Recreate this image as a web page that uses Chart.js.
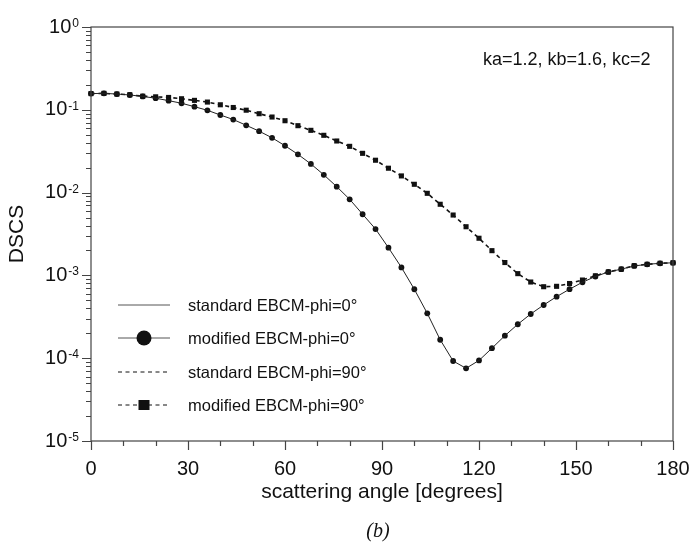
<!DOCTYPE html>
<html>
<head>
<meta charset="utf-8">
<title>DSCS vs scattering angle</title>
<script src="https://cdn.jsdelivr.net/npm/chart.js@4.4.0/dist/chart.umd.min.js"></script>
<style>
  html, body { margin: 0; padding: 0; background: #fff; }
  #wrap { width: 693px; height: 546px; position: relative; }
</style>
</head>
<body>
<div id="wrap"><canvas id="chart"></canvas></div>
<script>
// scattering angle in degrees, one sample every 4 degrees
const angles = [0, 4, 8, 12, 16, 20, 24, 28, 32, 36, 40, 44, 48, 52, 56, 60, 64, 68, 72, 76,
  80, 84, 88, 92, 96, 100, 104, 108, 112, 116, 120, 124, 128, 132, 136, 140, 144, 148, 152,
  156, 160, 164, 168, 172, 176, 180];

// DSCS, phi = 0 (standard and modified EBCM coincide)
const dscsPhi0 = [0.157, 0.158, 0.155, 0.151, 0.145, 0.138, 0.129, 0.120, 0.109, 0.0986,
  0.0865, 0.0763, 0.065, 0.0552, 0.0459, 0.0368, 0.029, 0.0222, 0.0164, 0.0118,
  0.0083, 0.00548, 0.00363, 0.00216, 0.00125, 6.8e-4, 3.48e-4, 1.67e-4, 9.25e-5, 7.55e-5,
  9.4e-5, 1.32e-4, 1.87e-4, 2.57e-4, 3.42e-4, 4.39e-4, 5.54e-4, 6.81e-4, 8.27e-4, 9.7e-4,
  1.10e-3, 1.19e-3, 1.30e-3, 1.36e-3, 1.40e-3, 1.42e-3];

// DSCS, phi = 90 (standard and modified EBCM coincide)
const dscsPhi90 = [0.157, 0.158, 0.155, 0.152, 0.146, 0.1435, 0.141, 0.136, 0.130, 0.124,
  0.115, 0.1066, 0.0989, 0.0897, 0.0818, 0.0738, 0.0643, 0.0565, 0.0492, 0.042,
  0.0362, 0.0298, 0.0246, 0.0197, 0.0159, 0.0126, 0.0098, 0.00723, 0.00536, 0.00387,
  0.00281, 0.00199, 0.00143, 0.00105, 8.32e-4, 7.3e-4, 7.38e-4, 7.98e-4, 8.79e-4, 9.89e-4,
  1.10e-3, 1.19e-3, 1.31e-3, 1.36e-3, 1.40e-3, 1.42e-3];

const xTicks = [0, 30, 60, 90, 120, 150, 180];
const xMinorStep = 10;
const yDecades = [-5, -4, -3, -2, -1, 0];

const legendLabels = [
  'standard EBCM-phi=0\u00b0',
  'modified EBCM-phi=0\u00b0',
  'standard EBCM-phi=90\u00b0',
  'modified EBCM-phi=90\u00b0'
];
const annotation = 'ka=1.2, kb=1.6, kc=2';
const xTitle = 'scattering angle [degrees]';
const yTitle = 'DSCS';
const panelLabel = '(b)';

const SANS = '"Liberation Sans", Arial, sans-serif';
const INK = '#111';
const DASH = [4, 3.5];

function toPoints(values) {
  return angles.map((a, i) => ({x: a, y: values[i]}));
}

// draws axes frame, ticks, labels, legend and notes
const decorations = {
    id: 'decorations',
    afterDraw(chart) {
        const {ctx, chartArea: a, scales: {x, y}} = chart;
        ctx.save();

        // frame
        ctx.strokeStyle = '#444';
        ctx.lineWidth = 1.2;
        ctx.strokeRect(a.left, a.top, a.right - a.left, a.bottom - a.top);

        // tick marks
        ctx.beginPath();
        for (let v = x.min; v <= x.max; v += xMinorStep) {
            const px = Math.round(x.getPixelForValue(v)) + 0.5;
            const len = xTicks.includes(v) ? 9 : 5;
            ctx.moveTo(px, a.bottom);
            ctx.lineTo(px, a.bottom + len);
        }
        for (const e of yDecades) {
            for (let m = 1; m <= 9; m++) {
                if (e === 0 && m > 1) break;
                const py = Math.round(y.getPixelForValue(m * Math.pow(10, e))) + 0.5;
                const len = m === 1 ? 9 : 5;
                ctx.moveTo(a.left, py);
                ctx.lineTo(a.left - len, py);
            }
        }
        ctx.stroke();

        ctx.fillStyle = INK;

        // x tick labels
        ctx.font = `20px ${SANS}`;
        ctx.textAlign = 'center';
        ctx.textBaseline = 'alphabetic';
        xTicks.forEach(v => ctx.fillText(String(v), x.getPixelForValue(v), 475));

        // y tick labels 10^e
        yDecades.forEach(e => {
            const py = y.getPixelForValue(Math.pow(10, e));
            const exp = String(e);
            ctx.font = `12px ${SANS}`;
            const ew = ctx.measureText(exp).width;
            ctx.textAlign = 'right';
            ctx.fillText(exp, 79, py);
            ctx.font = `20px ${SANS}`;
            ctx.fillText('10', 79 - ew - 1, py + 5.5);
        });

        // axis titles
        ctx.font = `21px ${SANS}`;
        ctx.textAlign = 'center';
        ctx.fillText(xTitle, (a.left + a.right) / 2, 498);
        ctx.save();
        ctx.translate(17, (a.top + a.bottom) / 2);
        ctx.rotate(-Math.PI / 2);
        ctx.textBaseline = 'middle';
        ctx.fillText(yTitle, 0, 0);
        ctx.restore();

        // parameter note
        ctx.font = `18px ${SANS}`;
        ctx.textAlign = 'left';
        ctx.fillText(annotation, 483, 65);

        // panel label
        ctx.font = `italic 20px "Liberation Serif", "Times New Roman", serif`;
        ctx.textAlign = 'center';
        ctx.textBaseline = 'middle';
        ctx.fillText(panelLabel, 378, 532);

        // legend
        const rows = [305, 338, 372, 405];
        const x0 = 118, x1 = 170, xm = 144;
        ctx.lineWidth = 1;
        rows.forEach((ry, i) => {
            ctx.strokeStyle = i < 2 ? '#555' : INK;
            ctx.setLineDash(i >= 2 ? DASH : []);
            ctx.beginPath();
            ctx.moveTo(x0, ry);
            ctx.lineTo(x1, ry);
            ctx.stroke();
        });
        ctx.setLineDash([]);
        ctx.beginPath();
        ctx.arc(xm, rows[1], 7.5, 0, Math.PI * 2);
        ctx.fill();
        ctx.fillRect(xm - 5.5, rows[3] - 5, 11, 10);

        ctx.font = `16.5px ${SANS}`;
        ctx.textAlign = 'left';
        ctx.textBaseline = 'alphabetic';
        legendLabels.forEach((t, i) => ctx.fillText(t, 188, rows[i] + 6));

        ctx.restore();
    }
};

const ctx = document.getElementById('chart');
new Chart(ctx, {
    type: 'line',
    data: {
        datasets: [
            {
                label: legendLabels[0],
                data: toPoints(dscsPhi0),
                borderColor: '#222',
                borderWidth: 1,
                pointRadius: 0,
                clip: false
            },
            {
                label: legendLabels[1],
                data: toPoints(dscsPhi0),
                showLine: false,
                pointStyle: 'circle',
                pointRadius: 2.9,
                backgroundColor: INK,
                borderColor: INK,
                borderWidth: 0,
                clip: false
            },
            {
                label: legendLabels[2],
                data: toPoints(dscsPhi90),
                borderColor: INK,
                borderWidth: 1.6,
                borderDash: DASH,
                pointRadius: 0,
                clip: false
            },
            {
                label: legendLabels[3],
                data: toPoints(dscsPhi90),
                showLine: false,
                pointStyle: 'rect',
                pointRadius: 3.6,
                backgroundColor: INK,
                borderColor: INK,
                borderWidth: 0,
                clip: false
            }
        ]
    },
    options: {
        responsive: true,
        maintainAspectRatio: false,
        animation: false,
        devicePixelRatio: 1,
        layout: {padding: {top: 27, right: 20, left: 0, bottom: 0}},
        plugins: {legend: {display: false}, tooltip: {enabled: false}},
        scales: {
            x: {
                type: 'linear',
                min: 0,
                max: 180,
                grid: {display: false},
                border: {display: false},
                ticks: {display: false},
                afterFit: s => { s.height = 105; }
            },
            y: {
                type: 'logarithmic',
                min: 1e-5,
                max: 1,
                grid: {display: false},
                border: {display: false},
                ticks: {display: false},
                afterFit: s => { s.width = 91; }
            }
        }
    },
    plugins: [decorations]
});
</script>
</body>
</html>
